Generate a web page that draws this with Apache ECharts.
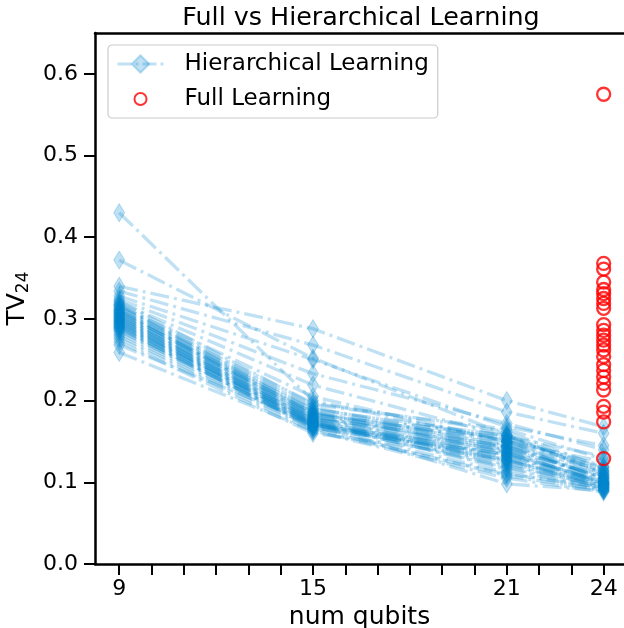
<!DOCTYPE html>
<html>
<head>
<meta charset="utf-8">
<script src="https://cdn.jsdelivr.net/npm/echarts@6/dist/echarts.min.js"></script>
<style>
  html, body { margin: 0; padding: 0; background: #ffffff; overflow: hidden; }
  #chart { width: 624px; height: 628px; }
</style>
</head>
<body>
<div id="chart"></div>
<script>
// Number of qubits at which each hierarchical run was evaluated
const qubits = [9, 15, 21, 24];

// TV distance of each hierarchical-learning run, one row per run (9, 15, 21, 24 qubits)
const hierTV = [
  [0.430, 0.200, 0.150, 0.118],
  [0.372, 0.252, 0.158, 0.110],
  [0.340, 0.288, 0.200, 0.168],
  [0.334, 0.268, 0.186, 0.160],
  [0.328, 0.250, 0.168, 0.145],
  [0.324, 0.233, 0.172, 0.140],
  [0.322, 0.195, 0.165, 0.128],
  [0.320, 0.219, 0.156, 0.132],
  [0.318, 0.190, 0.153, 0.120],
  [0.317, 0.186, 0.146, 0.114],
  [0.316, 0.205, 0.150, 0.125],
  [0.315, 0.184, 0.140, 0.108],
  [0.313, 0.197, 0.162, 0.118],
  [0.312, 0.182, 0.158, 0.115],
  [0.311, 0.178, 0.133, 0.102],
  [0.310, 0.192, 0.142, 0.106],
  [0.309, 0.181, 0.138, 0.104],
  [0.308, 0.185, 0.150, 0.110],
  [0.307, 0.189, 0.157, 0.112],
  [0.306, 0.175, 0.128, 0.097],
  [0.305, 0.180, 0.144, 0.105],
  [0.304, 0.186, 0.136, 0.100],
  [0.303, 0.176, 0.126, 0.099],
  [0.302, 0.173, 0.122, 0.094],
  [0.301, 0.183, 0.152, 0.098],
  [0.300, 0.177, 0.155, 0.113],
  [0.299, 0.171, 0.137, 0.099],
  [0.298, 0.180, 0.130, 0.095],
  [0.297, 0.171, 0.120, 0.096],
  [0.296, 0.178, 0.148, 0.103],
  [0.295, 0.174, 0.116, 0.091],
  [0.294, 0.169, 0.143, 0.106],
  [0.293, 0.176, 0.124, 0.093],
  [0.292, 0.172, 0.127, 0.096],
  [0.291, 0.174, 0.145, 0.108],
  [0.290, 0.166, 0.108, 0.090],
  [0.289, 0.167, 0.132, 0.101],
  [0.288, 0.172, 0.118, 0.092],
  [0.286, 0.169, 0.134, 0.098],
  [0.285, 0.170, 0.140, 0.097],
  [0.282, 0.168, 0.112, 0.090],
  [0.279, 0.166, 0.135, 0.100],
  [0.276, 0.163, 0.105, 0.088],
  [0.272, 0.160, 0.128, 0.093],
  [0.268, 0.172, 0.098, 0.090],
  [0.259, 0.163, 0.110, 0.094]
];

// Full learning runs, all at 24 qubits
const fullQubits = 24;
const fullTV = [
  0.575, 0.368, 0.361, 0.345, 0.336, 0.331, 0.325, 0.319, 0.313,
  0.293, 0.286, 0.280, 0.274, 0.268, 0.262, 0.254, 0.244, 0.237,
  0.229, 0.221, 0.213, 0.193, 0.186, 0.174, 0.129
];

// Axis ticks
const xTickLabels = [9, 15, 21, 24];
const xTickMarks = [9, 10, 11, 12, 13, 14, 15, 16, 17, 18, 19, 20, 21, 22, 23, 24];
const yTicks = [0, 0.1, 0.2, 0.3, 0.4, 0.5, 0.6];

const FONT = 'DejaVu Sans';
const BLUE = 'rgba(2, 136, 209, 0.25)';
const DASH_DOT = [19, 5, 3, 5];

const chart = echarts.init(document.getElementById('chart'), null, { renderer: 'canvas' });

const hierSeries = hierTV.map(run => ({
  type: 'line',
  name: 'Hierarchical Learning',
  data: qubits.map((q, i) => [q, run[i]]),
  symbol: 'diamond',
  symbolSize: [11, 18],
  lineStyle: { color: BLUE, width: 3.3, type: DASH_DOT, cap: 'butt' },
  itemStyle: { color: BLUE, borderColor: BLUE, borderWidth: 1 },
  silent: true,
  z: 2
}));

const fullSeries = {
  type: 'scatter',
  name: 'Full Learning',
  data: fullTV.map(v => [fullQubits, v]),
  symbol: 'circle',
  symbolSize: 13,
  itemStyle: { color: 'rgba(0,0,0,0)', borderColor: '#ff0000', borderWidth: 2.3 },
  silent: true,
  z: 5
};

const axisText = { fontFamily: FONT, color: '#000000' };

chart.setOption({
  animation: false,
  backgroundColor: '#ffffff',
  title: {
    text: 'Full vs Hierarchical Learning',
    left: 356,
    top: 1,
    textAlign: 'center',
    textStyle: { fontFamily: FONT, fontSize: 25.4, fontWeight: 'normal', color: '#000000' }
  },
  legend: {
    left: 108,
    top: 45,
    orient: 'vertical',
    itemWidth: 46,
    itemHeight: 22,
    itemGap: 11,
    padding: [7, 9, 7, 8],
    backgroundColor: 'rgba(255,255,255,0.8)',
    borderColor: '#cccccc',
    borderWidth: 1.2,
    borderRadius: 4,
    selectedMode: false,
    lineStyle: { color: BLUE, width: 3, type: [14, 4, 3, 4] },
    textStyle: { fontFamily: FONT, fontSize: 23, color: '#000000', lineHeight: 24, padding: [0, 0, 0, 16] },
    data: [
      { name: 'Hierarchical Learning' },
      { name: 'Full Learning', icon: 'path://M0,0M46,22M17,11a6,6 0 1,0 12,0a6,6 0 1,0 -12,0' }
    ]
  },
  grid: { left: 95, right: 0, top: 33, bottom: 64, containLabel: false, outerBoundsMode: 'none' },
  xAxis: [
    {
      type: 'value',
      min: 8.25,
      max: 24.63,
      name: 'num qubits',
      nameLocation: 'middle',
      nameGap: 41,
      nameTextStyle: { fontFamily: FONT, fontSize: 25, color: '#000000' },
      axisLine: { show: true, onZero: false, lineStyle: { color: '#000000', width: 2.5 } },
      axisTick: { show: true, length: 11, lineStyle: { color: '#000000', width: 2 }, customValues: xTickMarks },
      axisLabel: { ...axisText, fontSize: 22, margin: 14, customValues: xTickLabels },
      splitLine: { show: false }
    },
    {
      type: 'value',
      position: 'top',
      min: 8.25,
      max: 24.63,
      axisLine: { show: true, onZero: false, lineStyle: { color: '#000000', width: 2.5 } },
      axisTick: { show: false },
      axisLabel: { show: false },
      splitLine: { show: false }
    }
  ],
  yAxis: {
    type: 'value',
    min: 0,
    max: 0.65,
    name: '{a|TV}{b|24}',
    nameLocation: 'middle',
    nameRotate: 90,
    nameGap: 52,
    nameTextStyle: {
      fontFamily: FONT,
      color: '#000000',
      rich: {
        a: { fontFamily: FONT, fontSize: 25, lineHeight: 25, verticalAlign: 'top', color: '#000000' },
        b: { fontFamily: FONT, fontSize: 17, lineHeight: 17, verticalAlign: 'top', padding: [10, 0, 0, 0], color: '#000000' }
      }
    },
    axisLine: { show: true, onZero: false, lineStyle: { color: '#000000', width: 2.5 } },
    axisTick: { show: true, length: 11, lineStyle: { color: '#000000', width: 2 }, customValues: yTicks },
    axisLabel: { ...axisText, fontSize: 22, margin: 17, customValues: yTicks, formatter: v => v.toFixed(1) },
    splitLine: { show: false }
  },
  series: [...hierSeries, fullSeries]
});
</script>
</body>
</html>
